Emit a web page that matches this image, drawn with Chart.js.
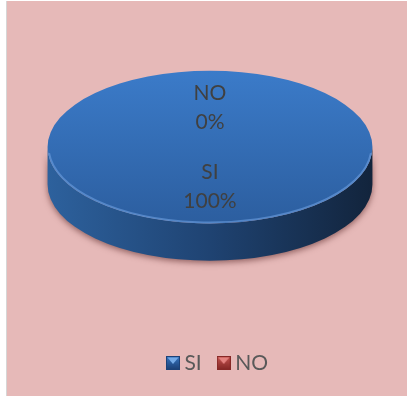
<!DOCTYPE html>
<html>
<head>
<meta charset="utf-8">
<script src="https://cdn.jsdelivr.net/npm/chart.js@4.4.0/dist/chart.umd.min.js"></script>
<style>
html, body { margin: 0; padding: 0; background: #fff; }
#frame { position: absolute; left: 6px; top: 1px; width: 400px; height: 395px; background: #E6B9B8; border-left: 1px solid #d6d6d6; }
#box { position: absolute; left: 0; top: 0; width: 407px; height: 396px; }
</style>
</head>
<body>
<div id="frame"></div>
<div id="box"><canvas id="chart"></canvas></div>
<script>
const categories = ['SI', 'NO'];
const answers = [100, 0];
const sliceColors = ['#3470bb', '#C0504D'];

// ellipse shape of the 3D pie
const tilt = 0.47;       // ry / rx
const depthRatio = 0.23; // side height / rx
const legendShift = 10;  // legend sits a bit right of the pie centre

// small 3D-looking legend squares
function makeMarker(dark, mid, light) {
    const c = document.createElement('canvas');
    c.width = 14; c.height = 14;
    const x = c.getContext('2d');
    x.fillStyle = dark;
    x.fillRect(0, 0, 14, 14);
    const g = x.createLinearGradient(0, 1, 0, 13);
    g.addColorStop(0, mid);
    g.addColorStop(1, dark);
    x.fillStyle = g;
    x.fillRect(1, 1, 12, 12);
    x.fillStyle = light;
    x.beginPath();
    x.moveTo(1.5, 1.5); x.lineTo(12.5, 1.5); x.lineTo(7, 8);
    x.closePath();
    x.fill();
    return c;
}
const markers = [
    makeMarker('#1c4177', '#3470bb', '#74a9e6'),
    makeMarker('#862826', '#c0504d', '#e4827f')
];

const pie3d = {
    id: 'pie3d',
    afterLayout(chart) {
        chart.legend.left += legendShift;
        chart.legend.right += legendShift;
    },
    beforeDatasetsDraw(chart) {
        const arc = chart.getDatasetMeta(0).data[0];
        const ctx = chart.ctx;
        const R = arc.outerRadius;
        const rx = R * 0.98, ry = rx * tilt, d = rx * depthRatio;
        const cx = arc.x, cy = arc.y - d / 2;
        chart.$geo = { cx, cy, rx, ry, d };

        // side wall
        ctx.save();
        ctx.beginPath();
        ctx.ellipse(cx, cy, rx, ry, 0, 0, Math.PI);
        ctx.lineTo(cx - rx, cy + d);
        ctx.ellipse(cx, cy + d, rx, ry, 0, Math.PI, 0, true);
        ctx.closePath();
        const g = ctx.createLinearGradient(cx - rx, 0, cx + rx, 0);
        g.addColorStop(0, '#2d619d');
        g.addColorStop(0.5, '#1f4372');
        g.addColorStop(1, '#12243c');
        ctx.shadowColor = 'rgba(70,20,20,0.55)';
        ctx.shadowBlur = 6;
        ctx.shadowOffsetY = 2;
        ctx.fillStyle = g;
        ctx.fill();
        ctx.restore();

        // flatten the top face
        ctx.save();
        ctx.translate(cx, cy);
        ctx.scale(rx / R, ry / R);
        ctx.translate(-arc.x, -arc.y);
    },
    afterDatasetsDraw(chart) {
        const ctx = chart.ctx;
        ctx.restore();
        const { cx, cy, rx, ry } = chart.$geo;

        // light rim on the front edge
        ctx.save();
        ctx.beginPath();
        ctx.ellipse(cx, cy, rx - 1, ry - 1, 0, 0.08, Math.PI - 0.08);
        ctx.strokeStyle = 'rgba(110,160,225,0.6)';
        ctx.lineWidth = 2;
        ctx.stroke();
        ctx.restore();

        // data labels
        const total = answers.reduce((a, b) => a + b, 0);
        const meta = chart.getDatasetMeta(0);
        ctx.save();
        ctx.font = '21px Lato';
        ctx.fillStyle = '#404040';
        ctx.textAlign = 'center';
        ctx.textBaseline = 'middle';
        meta.data.forEach((el, i) => {
            const mid = (el.startAngle + el.endAngle) / 2;
            const px = cx + Math.cos(mid) * rx * 0.52;
            const py = cy + Math.sin(mid) * ry * 0.52;
            const pct = Math.round(answers[i] / total * 100) + '%';
            ctx.fillText(categories[i], px, py - 14.5);
            ctx.fillText(pct, px, py + 14.5);
        });
        ctx.restore();
    }
};

const ctx = document.getElementById('chart').getContext('2d');

const chart = new Chart(ctx, {
    type: 'pie',
    data: {
        labels: categories,
        datasets: [{
            data: answers,
            backgroundColor: (c) => {
                const i = c.dataIndex;
                if (i !== 0 || !c.chart.chartArea) return sliceColors[i];
                const a = c.chart.chartArea;
                const g = c.chart.ctx.createLinearGradient(0, a.top, 0, a.bottom);
                g.addColorStop(0, '#3b7bc9');
                g.addColorStop(1, '#2c5e9f');
                return g;
            },
            borderWidth: 0
        }]
    },
    options: {
        responsive: true,
        maintainAspectRatio: false,
        animation: false,
        layout: { padding: { left: 44, right: 31, top: 0, bottom: 12.5 } },
        plugins: {
            tooltip: { enabled: false },
            legend: {
                position: 'bottom',
                labels: {
                    usePointStyle: true,
                    pointStyleWidth: 2,
                    padding: 21,
                    color: '#595959',
                    font: { family: 'Lato', size: 21 },
                    generateLabels(chart) {
                        const items = Chart.overrides.pie.plugins.legend.labels.generateLabels(chart);
                        items.forEach((it, i) => { it.pointStyle = markers[i]; });
                        return items;
                    }
                }
            }
        }
    },
    plugins: [pie3d]
});
</script>
</body>
</html>
